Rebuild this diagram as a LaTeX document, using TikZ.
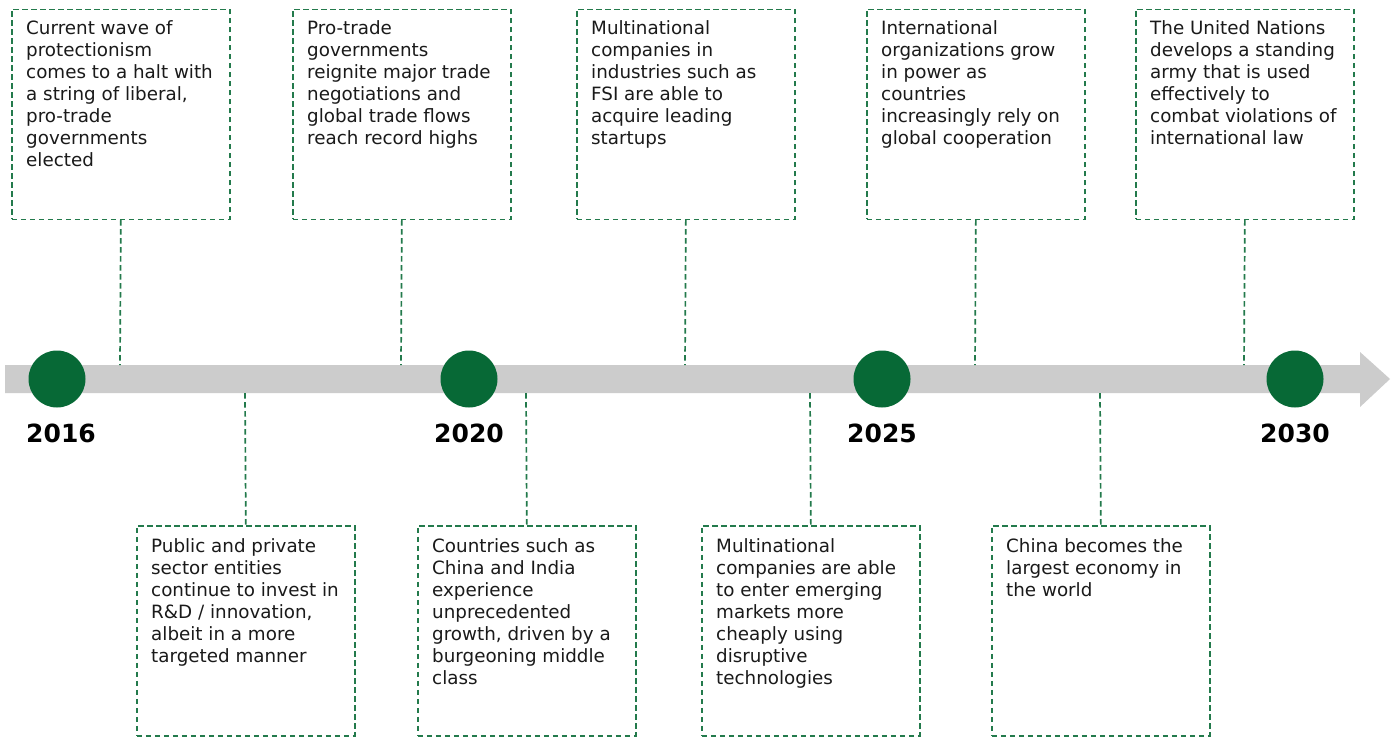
\documentclass[tikz,border=0pt]{standalone}
\usepackage{fontspec}
\setmainfont{DejaVu Sans}
\definecolor{dgreen}{HTML}{076936}
\definecolor{dashgreen}{HTML}{237A4C}
\definecolor{barg}{HTML}{CCCCCC}
\definecolor{txt}{HTML}{1A1A1A}
\tikzset{
 evbox/.style={draw=dashgreen, line width=1.7pt, dash pattern=on 5.5pt off 3.5pt, minimum width=218pt, minimum height=210pt, inner sep=0pt, anchor=north west},
 evtext/.style={anchor=north west, inner sep=0pt, align=left, font=\fontsize{18.3}{22}\selectfont, text=txt},
 link/.style={draw=dashgreen, line width=1.7pt, dash pattern=on 5.5pt off 3.5pt},
 yearnode/.style={circle, fill=dgreen, minimum size=57pt, inner sep=0pt},
 yearlabel/.style={font=\fontsize{25}{30}\selectfont\bfseries, anchor=base, text=black, inner sep=0pt}
}
\begin{document}
\begin{tikzpicture}[x=1pt,y=-1pt]
\useasboundingbox[fill=white] (0,0) rectangle (1394,736);
% bar with arrow head
\fill[barg] (5,365) -- (1360,365) -- (1360,352) -- (1390,379) -- (1360,407) -- (1360,393) -- (5,393) -- cycle;
% top boxes
\node[evbox] (a1) at (11,8.5) {};
\node[evbox] (a2) at (292,8.5) {};
\node[evbox] (a3) at (576,8.5) {};
\node[evbox] (a4) at (866,8.5) {};
\node[evbox] (a5) at (1135,8.5) {};
% bottom boxes
\node[evbox] (b1) at (136,525) {};
\node[evbox] (b2) at (417,525) {};
\node[evbox] (b3) at (701,525) {};
\node[evbox] (b4) at (991,525) {};
% texts
\node[evtext] (ta1) at (26,20.5) {Current wave of\\protectionism\\comes to a halt with\\a string of liberal,\\pro-trade\\governments\\elected};
\node[evtext] (ta2) at (307,20.5) {Pro-trade\\governments\\reignite major trade\\negotiations and\\global trade flows\\reach record highs};
\node[evtext] (ta3) at (591,20.5) {Multinational\\companies in\\industries such as\\FSI are able to\\acquire leading\\startups};
\node[evtext] (ta4) at (881,20.5) {International\\organizations grow\\in power as\\countries\\increasingly rely on\\global cooperation};
\node[evtext] (ta5) at (1150,20.5) {The United Nations\\develops a standing\\army that is used\\effectively to\\combat violations of\\international law};
\node[evtext] (tb1) at (151,538.5) {Public and private\\sector entities\\continue to invest in\\R\&D / innovation,\\albeit in a more\\targeted manner};
\node[evtext] (tb2) at (432,538.5) {Countries such as\\China and India\\experience\\unprecedented\\growth, driven by a\\burgeoning middle\\class};
\node[evtext] (tb3) at (716,538.5) {Multinational\\companies are able\\to enter emerging\\markets more\\cheaply using\\disruptive\\technologies};
\node[evtext] (tb4) at (1006,538.5) {China becomes the\\largest economy in\\the world};
% connector ends on bar
\coordinate (p1) at (120,365);
\coordinate (p2) at (401,365);
\coordinate (p3) at (685,365);
\coordinate (p4) at (975,365);
\coordinate (p5) at (1244,365);
\coordinate (q1) at (245,393);
\coordinate (q2) at (526,393);
\coordinate (q3) at (810,393);
\coordinate (q4) at (1100,393);
\draw[link] (a1.south) -- (p1);
\draw[link] (a2.south) -- (p2);
\draw[link] (a3.south) -- (p3);
\draw[link] (a4.south) -- (p4);
\draw[link] (a5.south) -- (p5);
\draw[link] (q1) -- (b1.north);
\draw[link] (q2) -- (b2.north);
\draw[link] (q3) -- (b3.north);
\draw[link] (q4) -- (b4.north);
% year circles
\node[yearnode] (c1) at (57,379) {};
\node[yearnode] (c2) at (469,379) {};
\node[yearnode] (c3) at (882,379) {};
\node[yearnode] (c4) at (1295,379) {};
\node[yearlabel] (y1) at (61,442) {2016};
\node[yearlabel] (y2) at (469,442) {2020};
\node[yearlabel] (y3) at (882,442) {2025};
\node[yearlabel] (y4) at (1295,442) {2030};
\end{tikzpicture}
\end{document}
